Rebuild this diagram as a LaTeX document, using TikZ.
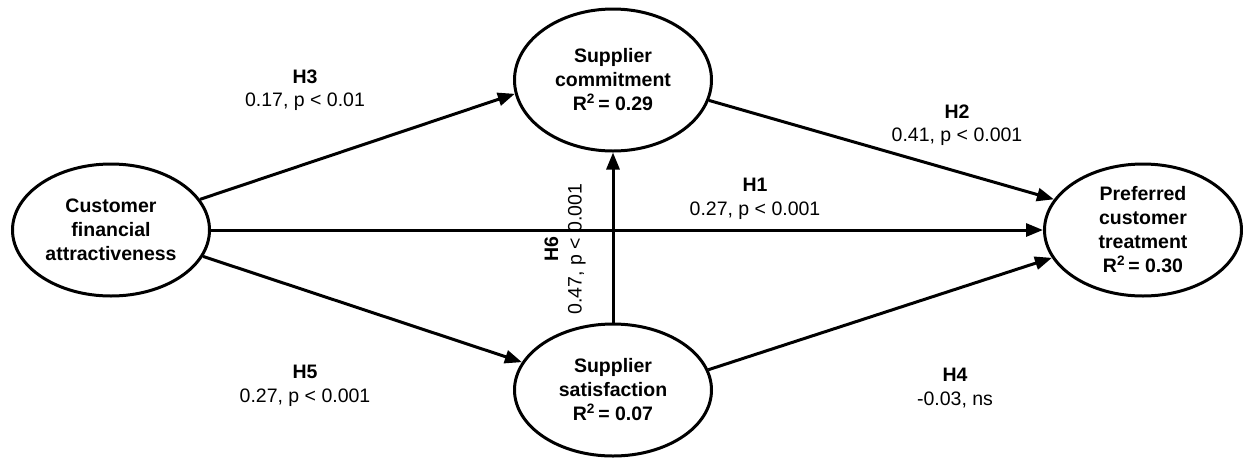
\documentclass[tikz,border=0pt]{standalone}
\usepackage{fontspec}
\setmainfont{Liberation Sans}
\usetikzlibrary{arrows.meta,shapes.geometric}
\tikzset{
  construct/.style={ellipse, draw, line width=3pt, inner sep=0pt,
    minimum width=197pt, minimum height=132pt, align=center,
    font=\fontsize{19.5}{24}\selectfont\bfseries},
  path/.style={line width=3pt, -{Triangle[length=17pt,width=13pt]}},
  lbl/.style={align=center, inner sep=0pt, font=\fontsize{19.5}{23.5}\selectfont}
}
\begin{document}
\begin{tikzpicture}[x=1pt,y=-1pt]
\useasboundingbox (0,0) rectangle (1243,459);
\node[construct] (cfa) at (111,230) {Customer\\financial\\attractiveness};
\node[construct, minimum height=142pt] (sc) at (613,80) {Supplier\\commitment\\R\textsuperscript{2}\,= 0.29};
\node[construct] (ss) at (613,390) {Supplier\\satisfaction\\R\textsuperscript{2}\,= 0.07};
\node[construct] (pct) at (1143,230) {Preferred\\customer\\treatment\\R\textsuperscript{2}\,= 0.30};

\draw[path] (cfa.19.3) -- (sc.188.7);
\draw[path] (cfa.-16.8) -- (ss.163.9);
\draw[path] (cfa.east) -- (pct.west);
\draw[path] (sc.-12.8) -- (pct.161.6);
\draw[path] (ss.12.5) -- (pct.197.1);
\draw[path] (ss.north) -- (sc.south);

\node[lbl] (l3) at (305,90) {\textbf{H3}\\0.17, p < 0.01};
\node[lbl] (l5) at (305,386) {\textbf{H5}\\0.27, p < 0.001};
\node[lbl] (l1) at (755,199) {\textbf{H1}\\0.27, p < 0.001};
\node[lbl] (l2) at (957,125) {\textbf{H2}\\0.41, p < 0.001};
\node[lbl] (l4) at (955,388) {\textbf{H4}\\-0.03, ns};
\node[lbl, rotate=90] (l6) at (565,249) {\textbf{H6}\\0.47, p < 0.001};
\end{tikzpicture}
\end{document}
